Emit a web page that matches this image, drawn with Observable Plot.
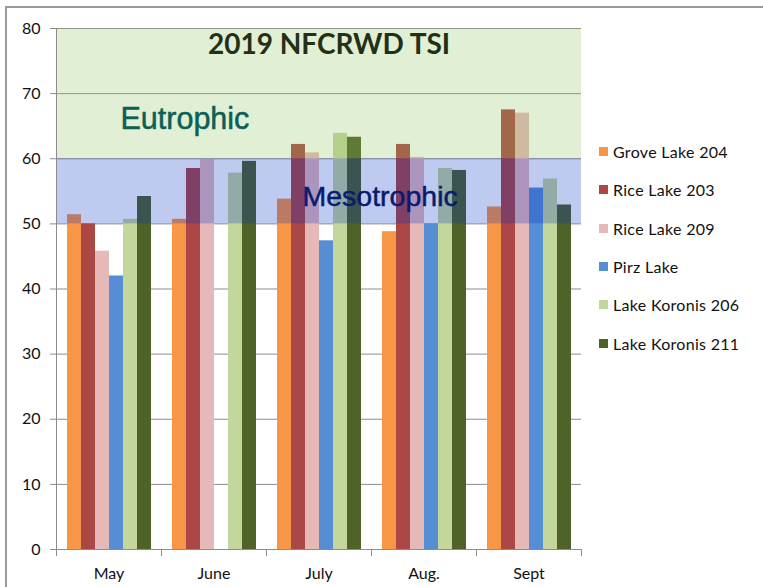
<!DOCTYPE html>
<html>
<head>
<meta charset="utf-8">
<script src="https://cdn.jsdelivr.net/npm/d3@7"></script>
<script src="https://cdn.jsdelivr.net/npm/@observablehq/plot@0.6"></script>
<style>
  body { margin: 0; background: #fff; }
  #wrap { position: relative; width: 763px; height: 587px; overflow: hidden; background: #fff; }
  #border { position: absolute; left: 5px; top: 6px; width: 900px; height: 700px; border-top: 2px solid #9a9a9a; border-left: 2px solid #9a9a9a; }
  #chart { position: absolute; left: 0; top: 0; }
  #legend { position: absolute; left: 599px; top: 132.5px; font-family: Lato, sans-serif; font-size: 16px; color: #111; letter-spacing: 0.3px; }
  #legend .item { height: 38.3px; display: flex; align-items: center; white-space: nowrap; }
  #legend .sw { width: 9px; height: 9px; margin-right: 5px; flex: none; }
</style>
</head>
<body>
<div id="wrap">
  <div id="border"></div>
  <div id="chart"></div>
  <div id="legend"></div>
</div>
<script>
const months = ["May", "June", "July", "Aug.", "Sept"];
const lakes = ["Grove Lake 204", "Rice Lake 203", "Rice Lake 209", "Pirz Lake", "Lake Koronis 206", "Lake Koronis 211"];
const colors = ["#F79646", "#AB4745", "#E6B9B8", "#558ED5", "#C3D69B", "#4F6228"];

const grove204   = [51.4, 50.7, 53.8, 48.8, 52.6];
const rice203    = [50.0, 58.5, 62.2, 62.2, 67.5];
const rice209    = [45.8, 59.9, 60.9, 60.2, 67.0];
const pirz       = [42.0, null, 47.4, 50.0, 55.5];
const koronis206 = [50.7, 57.8, 63.9, 58.5, 56.9];
const koronis211 = [54.2, 59.6, 63.3, 58.2, 52.9];

const yTicks = [0, 10, 20, 30, 40, 50, 60, 70, 80];
const zones = [
  {name: "Mesotrophic", lo: 50, hi: 60},
  {name: "Eutrophic", lo: 60, hi: 80}
];
const title = "2019 NFCRWD TSI";

const series = [grove204, rice203, rice209, pirz, koronis206, koronis211];
const table = months.flatMap((m, i) =>
  lakes.map((l, j) => ({month: m, lake: l, value: series[j][i]}))
).filter(d => d.value != null);

const plot = Plot.plot({
  width: 763,
  height: 587,
  marginLeft: 54,
  marginRight: 181,
  marginTop: 28,
  marginBottom: 38,
  style: {fontFamily: "Lato, sans-serif", fontSize: "16px", color: "#111", background: "transparent", overflow: "visible"},
  fx: {domain: months, padding: 0, label: null},
  x: {domain: lakes, axis: null, paddingInner: 0, paddingOuter: 0.745},
  y: {domain: [0, 80], label: null},
  color: {domain: lakes, range: colors},
  marks: [
    Plot.gridY(yTicks, {stroke: "#8c8c8c", strokeOpacity: 1}),
    Plot.barY(table, {fx: "month", x: "lake", y: "value", fill: "lake"}),
    Plot.rect(zones, {filter: d => d.name === "Mesotrophic", y1: "lo", y2: "hi", fill: "rgb(0,45,200)", fillOpacity: 0.25}),
    Plot.rect(zones, {filter: d => d.name === "Eutrophic", y1: "lo", y2: "hi", fill: "rgb(140,195,90)", fillOpacity: 0.26}),
    Plot.axisY(yTicks, {tickSize: 6, tickPadding: 10, stroke: "#8c8c8c", fontSize: 16}),
    Plot.axisFx({anchor: "bottom", tickSize: 0, tickPadding: 18, fontSize: 16, label: null}),
    Plot.text([title], {fx: () => "July", frameAnchor: "top", dx: 10, dy: 16.3, lineAnchor: "middle",
      fontSize: 28, fontWeight: "bold", fontFamily: "Lato, sans-serif", fill: "#233018"}),
    Plot.text(["Eutrophic"], {fx: () => "May", frameAnchor: "top-left", textAnchor: "start", dx: 64, dy: 91.2, lineAnchor: "middle",
      fontSize: 30.5, fontFamily: "Liberation Sans, Arial, sans-serif", fill: "#0b5f56", stroke: "#0b5f56", strokeWidth: 0.5}),
    Plot.text(["Mesotrophic"], {fx: () => "July", frameAnchor: "top-left", textAnchor: "start", dx: 36, dy: 168.4, lineAnchor: "middle",
      fontSize: 28.5, fontFamily: "Liberation Sans, Arial, sans-serif", fill: "#0a1a6e", stroke: "#0a1a6e", strokeWidth: 0.5})
  ]
});

document.getElementById("chart").appendChild(plot);

// category boundary ticks and the vertical axis line, placed with Plot's own scales
const fx = plot.scale("fx");
const ys = plot.scale("y");
const bounds = months.map(m => fx.apply(m)).concat([fx.apply(months[months.length - 1]) + fx.bandwidth]);
const svg = d3.select(plot);
const g = svg.append("g").attr("stroke", "#8c8c8c").attr("stroke-width", 1);
g.selectAll("line.b").data(bounds).join("line")
  .attr("x1", d => Math.round(d) + 0.5).attr("x2", d => Math.round(d) + 0.5)
  .attr("y1", ys.apply(0)).attr("y2", ys.apply(0) + 7);
g.append("line")
  .attr("x1", Math.round(bounds[0]) + 0.5).attr("x2", Math.round(bounds[0]) + 0.5)
  .attr("y1", ys.apply(80)).attr("y2", ys.apply(0));

// legend (vertical, right side)
const color = plot.scale("color");
d3.select("#legend").selectAll("div.item").data(lakes).join("div")
  .attr("class", "item")
  .call(div => {
    div.append("span").attr("class", "sw").style("background", d => color.apply(d));
    div.append("span").text(d => d);
  });
</script>
</body>
</html>
